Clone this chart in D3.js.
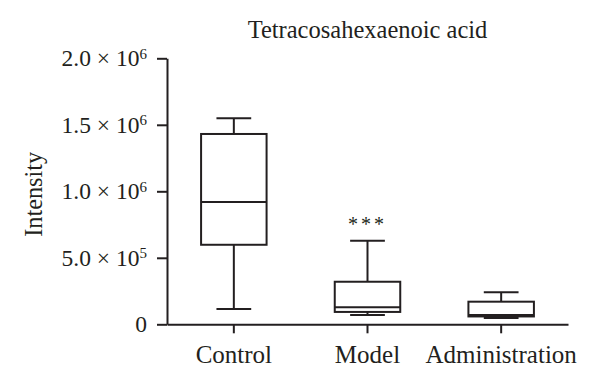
<!DOCTYPE html>
<html>
<head>
<meta charset="utf-8">
<script src="https://cdn.jsdelivr.net/npm/d3@7/dist/d3.min.js"></script>
<style>
  html, body { margin: 0; padding: 0; background: #fff; }
  svg { display: block; }
  text { font-family: "Liberation Serif", "DejaVu Serif", serif; fill: #231f20; }
</style>
</head>
<body>
<svg id="chart" width="600" height="385"></svg>
<script>
const categories = ["Control", "Model", "Administration"];
const mins    = [0.115e6, 0.070e6, 0.047e6];
const q1s     = [0.598e6, 0.093e6, 0.059e6];
const medians = [0.920e6, 0.128e6, 0.070e6];
const q3s     = [1.431e6, 0.320e6, 0.170e6];
const maxs    = [1.549e6, 0.629e6, 0.241e6];
const significance = ["", "***", ""];
const yTickValues = [0, 5e5, 1e6, 1.5e6, 2e6];
const yTickMantissa = ["0", "5.0", "1.0", "1.5", "2.0"];
const yTickExponent = ["", "5", "6", "6", "6"];
const title = "Tetracosahexaenoic acid";
const yLabel = "Intensity";

(function () {
const svg = d3.select("#chart");
const stroke = "#231f20";
const mLeft = 167, mRight = 568, mTop = 58.3, mBottom = 324.3;

const x = d3.scaleBand().domain(categories).range([mLeft, mRight]).padding(0);
const y = d3.scaleLinear().domain([0, 2e6]).range([mBottom, mTop]);

const boxW = x.bandwidth() * 0.49;
const capW = x.bandwidth() * 0.26;

// Y axis
const yAxis = svg.append("g").attr("transform", `translate(${mLeft},0)`)
  .call(d3.axisLeft(y).tickValues(yTickValues).tickSize(10).tickSizeOuter(0).tickFormat(""));
yAxis.select(".domain").attr("stroke", stroke).attr("stroke-width", 2);
yAxis.selectAll(".tick line").attr("stroke", stroke).attr("stroke-width", 2);
yAxis.selectAll(".tick text").remove();
yAxis.selectAll(".tick").each(function(d, i) {
  const t = d3.select(this).append("text")
    .attr("x", -20).attr("dy", "0.32em")
    .attr("text-anchor", "end")
    .attr("fill", stroke)
    .style("font-size", "23.5px");
  t.append("tspan").text(yTickMantissa[i] + (yTickExponent[i] ? " \u00d7 10" : ""));
  if (yTickExponent[i]) {
    t.append("tspan").attr("dy", "-0.5em").style("font-size", "15px").text(yTickExponent[i]);
  }
});

// X axis
const xAxis = svg.append("g").attr("transform", `translate(0,${mBottom})`)
  .call(d3.axisBottom(x).tickSize(9).tickSizeOuter(0));
xAxis.select(".domain").attr("stroke", stroke).attr("stroke-width", 2);
xAxis.selectAll(".tick line").attr("stroke", stroke).attr("stroke-width", 2);
xAxis.selectAll(".tick text").attr("y", 0).attr("dy", "39").style("font-size", "25px")
  .attr("fill", stroke).style("font-family", "'Liberation Serif', serif");

// Boxes
const g = svg.append("g").attr("fill", "none").attr("stroke", stroke).attr("stroke-width", 2);
categories.forEach((c, i) => {
  const cx = x(c) + x.bandwidth() / 2;
  g.append("line").attr("x1", cx).attr("x2", cx).attr("y1", y(maxs[i])).attr("y2", y(q3s[i]));
  g.append("line").attr("x1", cx).attr("x2", cx).attr("y1", y(q1s[i])).attr("y2", y(mins[i]));
  g.append("line").attr("x1", cx - capW/2).attr("x2", cx + capW/2).attr("y1", y(maxs[i])).attr("y2", y(maxs[i]));
  g.append("line").attr("x1", cx - capW/2).attr("x2", cx + capW/2).attr("y1", y(mins[i])).attr("y2", y(mins[i]));
  g.append("rect").attr("x", cx - boxW/2).attr("width", boxW)
    .attr("y", y(q3s[i])).attr("height", y(q1s[i]) - y(q3s[i]));
  g.append("line").attr("x1", cx - boxW/2).attr("x2", cx + boxW/2).attr("y1", y(medians[i])).attr("y2", y(medians[i]));
  if (significance[i]) {
    svg.append("text").attr("x", cx).attr("y", y(maxs[i]) - 10)
      .attr("text-anchor", "middle").style("font-size", "20px")
      .style("letter-spacing", "3px")
      .text(significance[i]);
  }
});

// Title
svg.append("text").attr("x", (mLeft + mRight) / 2).attr("y", 38)
  .attr("text-anchor", "middle").style("font-size", "24.5px").text(title);

// Y label
svg.append("text").attr("transform", `translate(42,${(mTop + mBottom) / 2 + 3}) rotate(-90)`)
  .attr("text-anchor", "middle").style("font-size", "24.3px").text(yLabel);
})();
</script>
</body>
</html>
